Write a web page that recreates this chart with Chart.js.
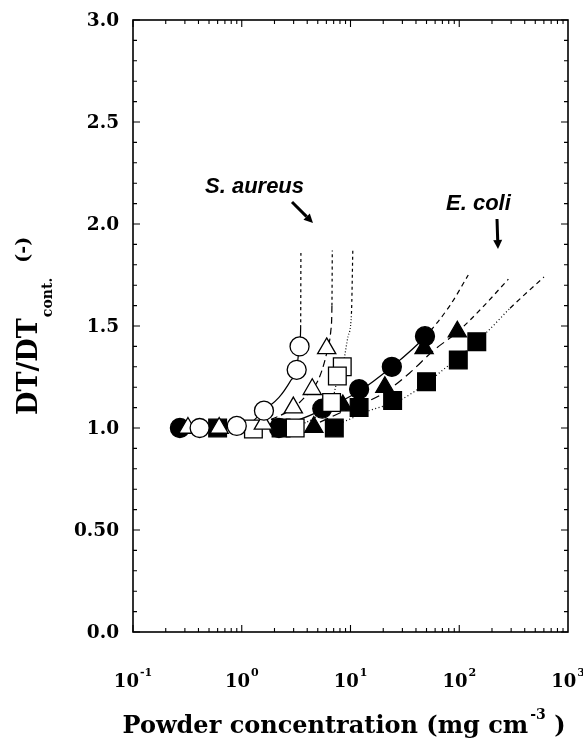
<!DOCTYPE html>
<html>
<head>
<meta charset="utf-8">
<script src="https://cdn.jsdelivr.net/npm/chart.js@4/dist/chart.umd.min.js"></script>
<style>html,body{margin:0;padding:0;background:#fff;}canvas{display:block;}</style>
</head>
<body>
<canvas id="c" width="583" height="740"></canvas>
<script>
// ---- data ----
// S. aureus (open markers)
const saCircleX = [0.41, 0.90, 1.60, 3.20, 3.40];
const saCircleY = [1.00, 1.01, 1.085, 1.285, 1.40];
const saTriX = [0.32, 0.62, 1.58, 2.98, 4.45, 6.04];
const saTriY = [1.00, 1.00, 1.02, 1.10, 1.19, 1.39];
const saSquareX = [1.28, 3.10, 6.70, 8.40, 7.57];
const saSquareY = [0.995, 1.00, 1.125, 1.30, 1.255];
// E. coli (filled markers)
const ecCircleX = [0.27, 2.20, 5.50, 12.0, 24.0, 48.4];
const ecCircleY = [1.00, 1.00, 1.095, 1.19, 1.30, 1.45];
const ecTriX = [4.6, 8.5, 20.7, 47.5, 96];
const ecTriY = [1.005, 1.11, 1.20, 1.39, 1.472];
const ecSquareX = [0.60, 2.30, 7.1, 12.0, 24.4, 50, 98, 145];
const ecSquareY = [1.00, 1.00, 1.00, 1.10, 1.135, 1.227, 1.333, 1.423];
// fitted curves
const fitSaCircleX = [1.1, 1.6, 2.2, 2.8, 3.2, 3.4, 3.48, 3.50];
const fitSaCircleY = [1.00, 1.085, 1.15, 1.23, 1.29, 1.40, 1.49, 1.87];
const fitSaTriX = [1.5, 3.0, 4.4, 5.0, 6.0, 6.6, 6.75, 6.80];
const fitSaTriY = [1.02, 1.10, 1.19, 1.23, 1.36, 1.48, 1.60, 1.87];
const fitSaSquareX = [3.0, 5.0, 6.7, 7.6, 8.6, 9.5, 10.2, 10.5];
const fitSaSquareY = [1.00, 1.06, 1.125, 1.24, 1.32, 1.45, 1.56, 1.87];
const fitEcCircleX = [2.0, 3.0, 5.6, 12, 24, 48, 82, 121];
const fitEcCircleY = [1.00, 1.03, 1.09, 1.18, 1.30, 1.445, 1.60, 1.75];
const fitEcTriX = [4.0, 8.5, 20, 35, 58, 96, 166, 283];
const fitEcTriY = [1.00, 1.08, 1.17, 1.27, 1.38, 1.47, 1.595, 1.73];
const fitEcSquareX = [6.0, 8.6, 14, 28.5, 50, 77, 98, 145, 179, 293, 601];
const fitEcSquareY = [1.00, 1.03, 1.08, 1.137, 1.22, 1.30, 1.34, 1.43, 1.47, 1.587, 1.74];
// axis ticks and labels
const yTickValues = [0, 0.5, 1.0, 1.5, 2.0, 2.5, 3.0];
const yTickLabels = ["0.0", "0.50", "1.0", "1.5", "2.0", "2.5", "3.0"];
const xTickExponents = [-1, 0, 1, 2, 3];
const xTitle = ["Powder concentration (mg cm", "-3", " )"];
const yTitle = ["DT/DT", "cont.", "(-)"];
const notes = ["S. aureus", "E. coli"];

const pts = (xs, ys) => xs.map((x, i) => ({x: x, y: ys[i]}));

function markerSet(xs, ys, style, filled, r) {
  return {
    data: pts(xs, ys), showLine: false, pointStyle: style, pointRadius: r,
    pointBackgroundColor: filled ? '#000' : '#fff', pointBorderColor: '#000',
    pointBorderWidth: 1.3, order: filled ? 1 : 0
  };
}
function curveSet(xs, ys, baseDash, testFn, topDash) {
  return {
    data: pts(xs, ys), showLine: true, pointRadius: 0, borderColor: '#000',
    borderWidth: 1.2, borderDash: baseDash, cubicInterpolationMode: 'monotone',
    fill: false, order: 2,
    segment: { borderDash: c => testFn(c.p0.parsed, c.p1.parsed) ? topDash : baseDash }
  };
}

const datasets = [
  markerSet(saCircleX, saCircleY, 'circle', false, 9.5),
  markerSet(saTriX, saTriY, 'triangle', false, 10.5),
  markerSet(saSquareX, saSquareY, 'rect', false, 12.5),
  markerSet(ecCircleX, ecCircleY, 'circle', true, 9.5),
  markerSet(ecTriX, ecTriY, 'triangle', true, 10.5),
  markerSet(ecSquareX, ecSquareY, 'rect', true, 12.5),
  curveSet(fitSaCircleX, fitSaCircleY, [], (a, b) => a.y >= 1.48, [3, 3]),
  curveSet(fitSaTriX, fitSaTriY, [7, 4], (a, b) => a.y >= 1.58, [3, 3]),
  curveSet(fitSaSquareX, fitSaSquareY, [1, 2], (a, b) => a.y >= 1.55, [3, 3]),
  curveSet(fitEcCircleX, fitEcCircleY, [], (a, b) => a.x >= 47, [5, 4]),
  curveSet(fitEcTriX, fitEcTriY, [9, 5], (a, b) => a.x >= 95, [5, 4]),
  curveSet(fitEcSquareX, fitEcSquareY, [1, 2.5], (a, b) => a.x >= 290, [5, 4])
];

function arrow(ctx, x1, y1, x2, y2) {
  const ang = Math.atan2(y2 - y1, x2 - x1), hl = 9, hw = 4.5;
  const bx = x2 - hl * Math.cos(ang), by = y2 - hl * Math.sin(ang);
  ctx.beginPath(); ctx.lineWidth = 3; ctx.moveTo(x1, y1); ctx.lineTo(bx, by); ctx.stroke();
  ctx.beginPath();
  ctx.moveTo(x2, y2);
  ctx.lineTo(bx + hw * Math.sin(ang), by - hw * Math.cos(ang));
  ctx.lineTo(bx - hw * Math.sin(ang), by + hw * Math.cos(ang));
  ctx.closePath(); ctx.fill();
}

const decor = {
  id: 'decor',
  beforeDraw(chart) {
    const ctx = chart.ctx; ctx.save(); ctx.fillStyle = '#fff';
    ctx.fillRect(0, 0, chart.width, chart.height); ctx.restore();
  },
  afterDraw(chart) {
    const ctx = chart.ctx, a = chart.chartArea, xs = chart.scales.x, ys = chart.scales.y;
    ctx.save();
    ctx.strokeStyle = '#000'; ctx.fillStyle = '#000';
    // frame
    ctx.lineWidth = 1.6;
    ctx.strokeRect(a.left, a.top, a.right - a.left, a.bottom - a.top);
    // x ticks (log)
    ctx.lineWidth = 1.1; ctx.beginPath();
    for (let e = -1; e < 3; e++) for (let m = 1; m < 10; m++) {
      const px = xs.getPixelForValue(m * Math.pow(10, e)); const len = m === 1 ? 7 : 4;
      ctx.moveTo(px, a.bottom); ctx.lineTo(px, a.bottom - len);
      ctx.moveTo(px, a.top); ctx.lineTo(px, a.top + len);
    }
    // y ticks
    for (let i = 0; i <= 30; i++) {
      const py = ys.getPixelForValue(i / 10); const len = i % 5 === 0 ? 7 : 4;
      ctx.moveTo(a.left, py); ctx.lineTo(a.left + len, py);
      ctx.moveTo(a.right, py); ctx.lineTo(a.right - len, py);
    }
    ctx.stroke();
    // y tick labels
    ctx.font = 'bold 18.5px "DejaVu Serif"'; ctx.textAlign = 'right'; ctx.textBaseline = 'middle';
    yTickValues.forEach((v, i) => ctx.fillText(yTickLabels[i], a.left - 14, ys.getPixelForValue(v) + 1));
    // x tick labels 10^n
    ctx.textBaseline = 'alphabetic'; ctx.textAlign = 'left';
    xTickExponents.forEach(e => {
      const px = xs.getPixelForValue(Math.pow(10, e));
      ctx.font = 'bold 18px "DejaVu Serif"'; const w1 = ctx.measureText('10').width;
      ctx.font = 'bold 11px "DejaVu Serif"'; const sup = String(e); const w2 = ctx.measureText(sup).width;
      const x0 = px - (w1 + w2 + 1) / 2;
      ctx.font = 'bold 18px "DejaVu Serif"'; ctx.fillText('10', x0, 687);
      ctx.font = 'bold 11px "DejaVu Serif"'; ctx.fillText(sup, x0 + w1 + 1, 676);
    });
    // x title
    ctx.font = 'bold 24px "DejaVu Serif"';
    const t1 = ctx.measureText(xTitle[0]).width;
    ctx.font = 'bold 14px "DejaVu Serif"';
    const t2 = ctx.measureText(xTitle[1]).width;
    ctx.font = 'bold 24px "DejaVu Serif"';
    const t3 = ctx.measureText(xTitle[2]).width;
    let tx = 344 - (t1 + t2 + t3 + 2) / 2;
    ctx.fillText(xTitle[0], tx, 733);
    ctx.font = 'bold 14px "DejaVu Serif"'; ctx.fillText(xTitle[1], tx + t1 + 2, 719);
    ctx.font = 'bold 24px "DejaVu Serif"'; ctx.fillText(xTitle[2], tx + t1 + t2 + 2, 733);
    // y title (rotated)
    ctx.save();
    ctx.translate(37, 415); ctx.rotate(-Math.PI / 2);
    ctx.font = 'bold 27px "DejaVu Serif"'; ctx.textAlign = 'left'; ctx.textBaseline = 'alphabetic';
    const d1 = ctx.measureText(yTitle[0]).width;
    ctx.fillText(yTitle[0], 0, 0);
    ctx.font = 'bold 14px "DejaVu Serif"';
    const d2 = ctx.measureText(yTitle[1]).width;
    ctx.fillText(yTitle[1], d1 + 1, 15);
    ctx.font = 'bold 19px "DejaVu Serif"'; ctx.textBaseline = 'middle';
    ctx.fillText(yTitle[2], d1 + d2 + 16, -13);
    ctx.restore();
    // annotations
    ctx.font = 'italic bold 22px "Liberation Sans", Arial, sans-serif';
    ctx.textAlign = 'left'; ctx.textBaseline = 'alphabetic';
    ctx.fillText(notes[0], 205, 193);
    ctx.fillText(notes[1], 446, 210);
    arrow(ctx, 292, 202, 313, 223);
    arrow(ctx, 497, 219, 498, 249);
    ctx.restore();
  }
};

new Chart(document.getElementById('c').getContext('2d'), {
  type: 'scatter',
  data: { datasets: datasets },
  options: {
    responsive: false, animation: false,
    layout: { padding: { left: 133, right: 15, top: 20, bottom: 108 } },
    plugins: { legend: { display: false }, tooltip: { enabled: false } },
    scales: {
      x: { type: 'logarithmic', min: 0.1, max: 1000, display: false },
      y: { type: 'linear', min: 0, max: 3, display: false }
    }
  },
  plugins: [decor]
});
</script>
</body>
</html>
